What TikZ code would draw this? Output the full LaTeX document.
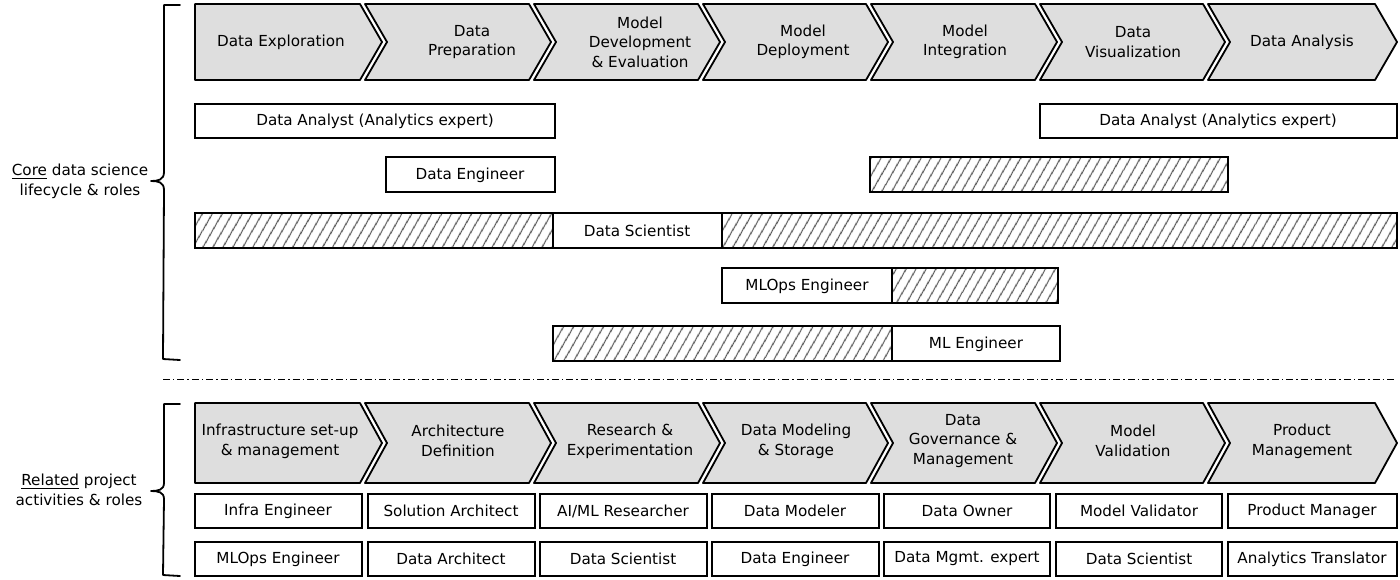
\documentclass[tikz,border=0pt]{standalone}
\usepackage{fontspec}
\setmainfont{DejaVu Sans}
\usetikzlibrary{patterns.meta}
\definecolor{chevfill}{HTML}{DEDEDE}
\definecolor{hatchcol}{HTML}{555555}
\newcommand{\chevflat}[4]{%
  \filldraw[chev] (#1,#3) -- (#2,#3) -- ({#2+22},{(#3+#4)/2}) -- (#2,#4) -- (#1,#4) -- cycle;}
\newcommand{\chevnotch}[4]{%
  \filldraw[chev] (#1,#3) -- (#2,#3) -- ({#2+22},{(#3+#4)/2}) -- (#2,#4) -- (#1,#4) -- ({#1+22},{(#3+#4)/2}) -- cycle;}
\begin{document}
\begin{tikzpicture}[x=0.5pt,y=-0.5pt,
  chev/.style={fill=chevfill,draw=black,line width=0.9pt,line join=round},
  rolebox/.style={fill=white,draw=black,line width=0.9pt},
  hatchbox/.style={draw=black,line width=0.9pt,pattern={Lines[angle=60,distance=4pt,line width=0.6pt]},pattern color=hatchcol},
  lbl/.style={align=center,font=\fontsize{7.6}{9.8}\selectfont,inner sep=0pt},
  bracepath/.style={draw=black,line width=0.9pt,line join=round,line cap=round}]
\useasboundingbox (0,0) rectangle (1400,579);

% ---------- top chevrons ----------
\chevflat{195}{360}{4}{80}
\chevnotch{365}{529}{4}{80}
\chevnotch{534}{698}{4}{80}
\chevnotch{703}{866}{4}{80}
\chevnotch{871}{1035}{4}{80}
\chevnotch{1040}{1203}{4}{80}
\chevnotch{1208}{1375}{4}{80}
\node[lbl] (t1) at (281,42) {Data Exploration};
\node[lbl] (t2) at (472,42) {Data\\Preparation};
\node[lbl] (t3) at (640,42) {Model\\Development\\\& Evaluation};
\node[lbl] (t4) at (803,42) {Model\\Deployment};
\node[lbl] (t5) at (965,42) {Model\\Integration};
\node[lbl] (t6) at (1133,42) {Data\\Visualization};
\node[lbl] (t7) at (1302,42) {Data Analysis};

% ---------- top role bars ----------
\draw[rolebox] (195,104) rectangle (555,138);
\node[lbl] (da1) at (375,121) {Data Analyst (Analytics expert)};
\draw[rolebox] (1040,104) rectangle (1397,138);
\node[lbl] (da2) at (1218,121) {Data Analyst (Analytics expert)};

\draw[rolebox] (386,157) rectangle (555,192);
\node[lbl] (de1) at (470,175) {Data Engineer};
\draw[hatchbox] (870,157) rectangle (1228,192);

\draw[hatchbox] (195,213) rectangle (553,248);
\draw[rolebox] (553,213) rectangle (722,248);
\node[lbl] (ds1) at (637,231) {Data Scientist};
\draw[hatchbox] (722,213) rectangle (1397,248);

\draw[rolebox] (722,268) rectangle (892,303);
\node[lbl] (mo1) at (807,286) {MLOps Engineer};
\draw[hatchbox] (892,268) rectangle (1058,303);

\draw[hatchbox] (553,326) rectangle (892,361);
\draw[rolebox] (892,326) rectangle (1060,361);
\node[lbl] (ml1) at (976,344) {ML Engineer};

% ---------- separator ----------
\coordinate (sepL) at (163,379);
\coordinate (sepR) at (1397,379);
\draw[line width=0.5pt,dash pattern=on 3.5pt off 1.5pt on 0.7pt off 1.5pt] (sepL) -- (sepR);

% ---------- bottom chevrons ----------
\chevflat{195}{360}{403}{483}
\chevnotch{365}{529}{403}{483}
\chevnotch{534}{698}{403}{483}
\chevnotch{703}{866}{403}{483}
\chevnotch{871}{1035}{403}{483}
\chevnotch{1040}{1203}{403}{483}
\chevnotch{1208}{1375}{403}{483}
\node[lbl] (b1) at (280,441) {Infrastructure set-up\\\& management};
\node[lbl] (b2) at (458,441) {Architecture\\Definition};
\node[lbl] (b3) at (630,441) {Research \&\\Experimentation};
\node[lbl] (b4) at (796,441) {Data Modeling\\\& Storage};
\node[lbl] (b5) at (963,441) {Data\\Governance \&\\Management};
\node[lbl] (b6) at (1133,441) {Model\\Validation};
\node[lbl] (b7) at (1302,441) {Product\\Management};

% ---------- bottom role boxes ----------
\draw[rolebox] (195,494) rectangle (362,528);
\draw[rolebox] (368,494) rectangle (535,528);
\draw[rolebox] (540,494) rectangle (707,528);
\draw[rolebox] (712,494) rectangle (879,528);
\draw[rolebox] (884,494) rectangle (1050,528);
\draw[rolebox] (1056,494) rectangle (1222,528);
\draw[rolebox] (1228,494) rectangle (1397,528);
\node[lbl] (r11) at (278,511) {Infra Engineer};
\node[lbl] (r12) at (451,511) {Solution Architect};
\node[lbl] (r13) at (623,511) {AI/ML Researcher};
\node[lbl] (r14) at (795,511) {Data Modeler};
\node[lbl] (r15) at (967,511) {Data Owner};
\node[lbl] (r16) at (1139,511) {Model Validator};
\node[lbl] (r17) at (1312,511) {Product Manager};

\draw[rolebox] (195,542) rectangle (362,576);
\draw[rolebox] (368,542) rectangle (535,576);
\draw[rolebox] (540,542) rectangle (707,576);
\draw[rolebox] (712,542) rectangle (879,576);
\draw[rolebox] (884,542) rectangle (1050,576);
\draw[rolebox] (1056,542) rectangle (1222,576);
\draw[rolebox] (1228,542) rectangle (1397,576);
\node[lbl] (r21) at (278,559) {MLOps Engineer};
\node[lbl] (r22) at (451,559) {Data Architect};
\node[lbl] (r23) at (623,559) {Data Scientist};
\node[lbl] (r24) at (795,559) {Data Engineer};
\node[lbl] (r25) at (967,559) {Data Mgmt. expert};
\node[lbl] (r26) at (1139,559) {Data Scientist};
\node[lbl] (r27) at (1312,559) {Analytics Translator};

% ---------- braces and side labels ----------
\draw[bracepath] (180,5) -- (164,5) -- (164,172)
  .. controls (164,180) and (158,181) .. (151,181)
  .. controls (158,181) and (164,182) .. (164,190)
  -- (163,359) -- (180,360);
\node[lbl,font=\fontsize{7.6}{10}\selectfont] (corelbl) at (80,181) {\underline{Core} data science\\lifecycle \& roles};

\draw[bracepath] (180,404) -- (164,404) -- (164,483)
  .. controls (164,490) and (158,491) .. (151,491)
  .. controls (158,491) and (164,492) .. (164,499)
  -- (163,575) -- (180,576);
\node[lbl,font=\fontsize{7.6}{10}\selectfont] (rellbl) at (79,490) {\underline{Related} project\\activities \& roles};
\end{tikzpicture}
\end{document}
